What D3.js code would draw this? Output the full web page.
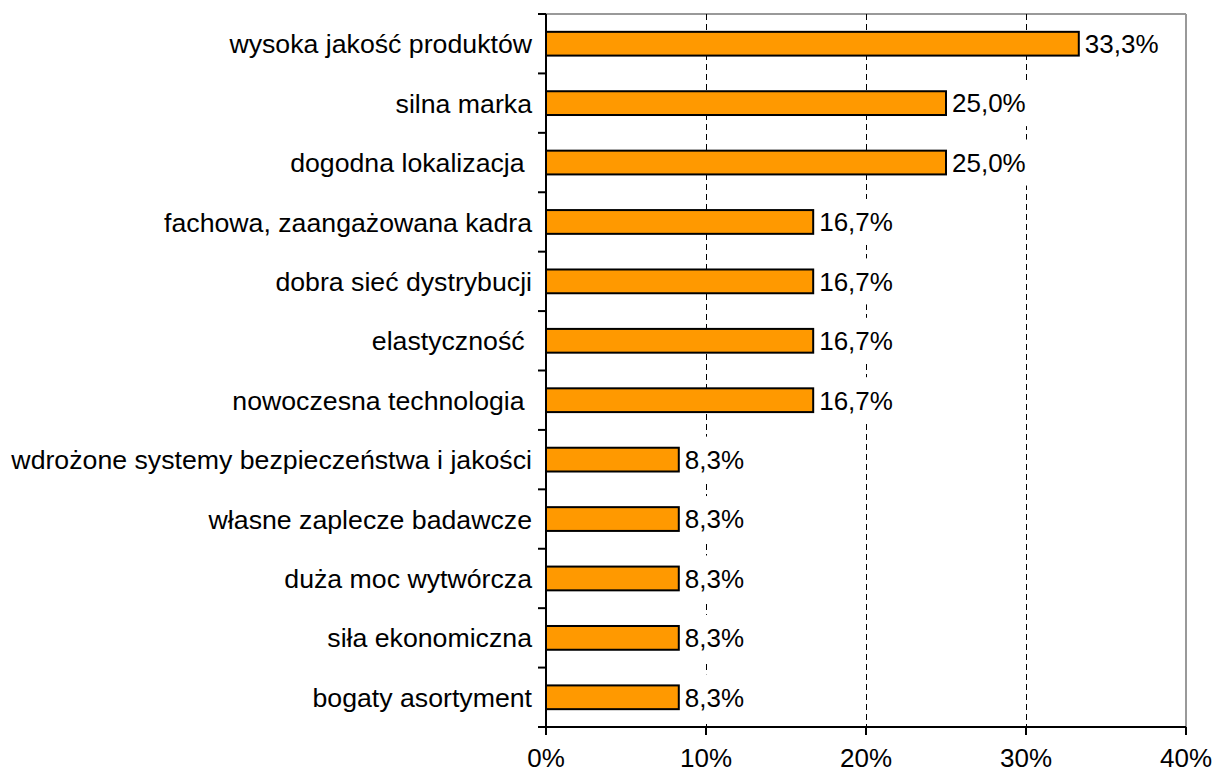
<!DOCTYPE html>
<html>
<head>
<meta charset="utf-8">
<script src="https://cdn.jsdelivr.net/npm/d3@7"></script>
<style>
  body { margin: 0; background: #fff; }
  svg { font-family: "Liberation Sans", Arial, sans-serif; }
</style>
</head>
<body>
<div id="chart"></div>
<script>
const categories = [
    "wysoka jakość produktów",
    "silna marka",
    "dogodna lokalizacja ",
    "fachowa, zaangażowana kadra",
    "dobra sieć dystrybucji",
    "elastyczność ",
    "nowoczesna technologia ",
    "wdrożone systemy bezpieczeństwa i jakości",
    "własne zaplecze badawcze",
    "duża moc wytwórcza",
    "siła ekonomiczna",
    "bogaty asortyment"
];
const values = [33.3, 25.0, 25.0, 16.7, 16.7, 16.7, 16.7, 8.3, 8.3, 8.3, 8.3, 8.3];
const xTicks = [0, 10, 20, 30, 40];

const width = 1216, height = 776;
const margin = { top: 14, right: 30, bottom: 49, left: 546 };
const innerW = width - margin.left - margin.right;
const innerH = height - margin.top - margin.bottom;
const fontSize = 26;

const svg = d3.select("#chart").append("svg")
    .attr("width", width)
    .attr("height", height);

const g = svg.append("g").attr("transform", `translate(${margin.left},${margin.top})`);

const x = d3.scaleLinear().domain([0, 40]).range([0, innerW]);
const y = d3.scaleBand().domain(categories).range([0, innerH]).paddingInner(0.6).paddingOuter(0.3);
const yCells = d3.scaleBand().domain(categories).range([0, innerH]);

// plot area frame (top and right in grey)
g.append("line").attr("x1", 0).attr("x2", innerW).attr("y1", 0).attr("y2", 0)
    .attr("stroke", "#999").attr("stroke-width", 2);
g.append("line").attr("x1", innerW).attr("x2", innerW).attr("y1", 0).attr("y2", innerH)
    .attr("stroke", "#999").attr("stroke-width", 2);

// dashed gridlines
g.selectAll(".grid")
    .data(xTicks.filter(t => t > 0 && t < 40))
    .enter().append("line")
    .attr("class", "grid")
    .attr("x1", d => Math.round(x(d)) + 0.5).attr("x2", d => Math.round(x(d)) + 0.5)
    .attr("y1", 0).attr("y2", innerH)
    .attr("stroke", "#000")
    .attr("stroke-width", 1)
    .attr("stroke-dasharray", "6,4");

// bars
g.selectAll(".bar")
    .data(values)
    .enter().append("rect")
    .attr("class", "bar")
    .attr("x", x(0))
    .attr("y", (d, i) => y(categories[i]))
    .attr("width", d => x(d) - x(0))
    .attr("height", y.bandwidth())
    .attr("fill", "#FF9900")
    .attr("stroke", "#000")
    .attr("stroke-width", 2);

// value labels (white boxes hide the gridlines, like the original)
const valG = g.selectAll(".val")
    .data(values)
    .enter().append("g")
    .attr("class", "val");
const bg = valG.append("rect").attr("fill", "#fff");
const valText = valG.append("text")
    .attr("x", d => x(d) + 6)
    .attr("y", (d, i) => y(categories[i]) + y.bandwidth() / 2)
    .attr("dy", "0.36em")
    .attr("font-size", fontSize)
    .attr("fill", "#000")
    .text(d => d.toFixed(1).replace(".", ",") + "%");
valText.each(function(d, i) {
    const w = this.getComputedTextLength();
    const cy = y(categories[i]) + y.bandwidth() / 2;
    d3.select(bg.nodes()[i])
        .attr("x", x(d) + 3)
        .attr("y", cy - 23)
        .attr("width", w + 6)
        .attr("height", 46);
});

// y axis
const yAxis = g.append("g");
yAxis.append("line").attr("x1", 0).attr("x2", 0).attr("y1", 0).attr("y2", innerH)
    .attr("stroke", "#000").attr("stroke-width", 2);
const yTickPos = categories.map(c => yCells(c)).concat([innerH]);
yAxis.selectAll(".ytick")
    .data(yTickPos)
    .enter().append("line")
    .attr("x1", -8).attr("x2", 0)
    .attr("y1", d => d).attr("y2", d => d)
    .attr("stroke", "#000").attr("stroke-width", 2);
yAxis.selectAll(".ylab")
    .data(categories)
    .enter().append("text")
    .attr("x", -14)
    .attr("y", d => yCells(d) + yCells.bandwidth() / 2)
    .attr("dy", "0.36em")
    .attr("text-anchor", "end")
    .attr("font-size", 26.7)
    .attr("fill", "#000")
    .style("white-space", "pre")
    .text(d => d);

// x axis
const xAxis = g.append("g").attr("transform", `translate(0,${innerH})`);
xAxis.append("line").attr("x1", 0).attr("x2", innerW).attr("y1", 0).attr("y2", 0)
    .attr("stroke", "#000").attr("stroke-width", 2);
xAxis.selectAll(".xtick")
    .data(xTicks)
    .enter().append("line")
    .attr("x1", d => x(d)).attr("x2", d => x(d))
    .attr("y1", 0).attr("y2", 8)
    .attr("stroke", "#000").attr("stroke-width", 2);
xAxis.selectAll(".xlab")
    .data(xTicks)
    .enter().append("text")
    .attr("x", d => x(d))
    .attr("y", 40)
    .attr("text-anchor", "middle")
    .attr("font-size", fontSize)
    .attr("fill", "#000")
    .text(d => d + "%");
</script>
</body>
</html>
